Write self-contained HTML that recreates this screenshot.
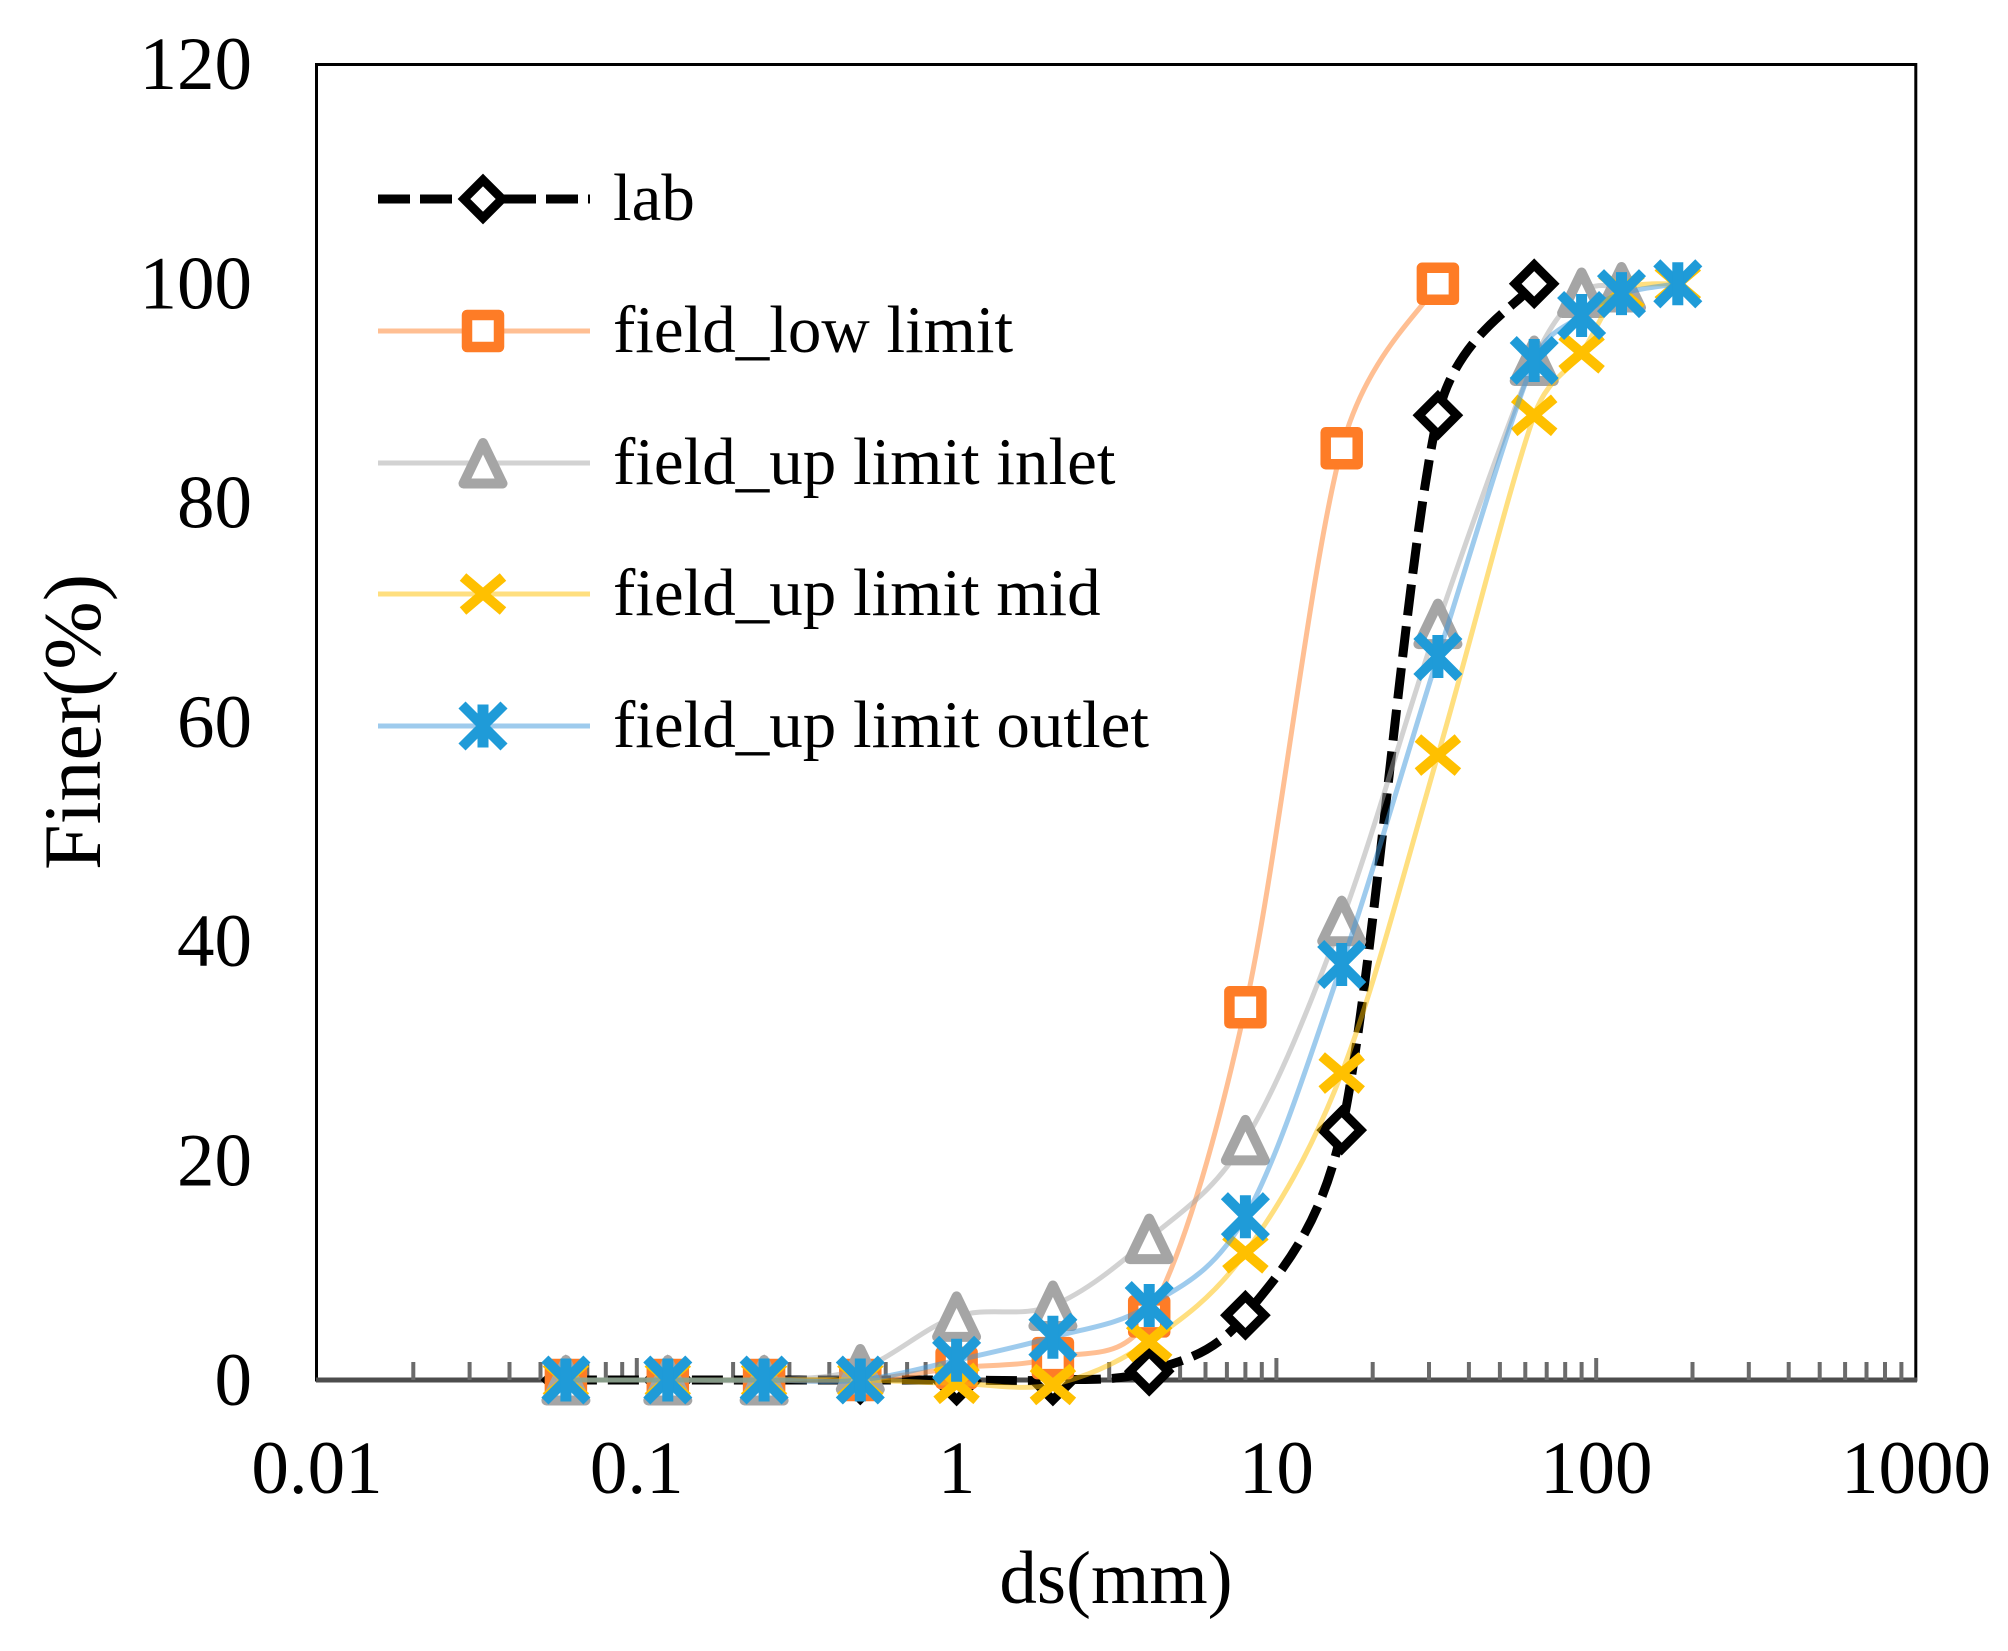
<!DOCTYPE html>
<html>
<head>
<meta charset="utf-8">
<style>
html,body{margin:0;padding:0;background:#fff;}
svg{display:block;}
text{font-family:"Liberation Serif","Times New Roman",serif;fill:#000;}
</style>
</head>
<body>
<svg id="chart" width="2008" height="1651" viewBox="0 0 2008 1651" xmlns="http://www.w3.org/2000/svg">
<defs>
  <g id="mDia"><path d="M0,-19 L19,0 L0,19 L-19,0 Z" fill="#fff" stroke="#000" stroke-width="9" stroke-linejoin="miter"/></g>
  <g id="mSq"><rect x="-16" y="-16" width="32" height="32" fill="#fff" stroke="#FE7C26" stroke-width="10.5" stroke-linejoin="round"/></g>
  <g id="mTri"><path d="M0,-20 L19.5,20.5 L-19.5,20.5 Z" fill="#fff" stroke="#A5A5A5" stroke-width="10" stroke-linejoin="round"/></g>
  <g id="mX"><path d="M-20,-17 L20,17 M-20,17 L20,-17" fill="none" stroke="#FFC000" stroke-width="10"/></g>
  <g id="mAst"><path d="M-21,-21 L21,21 M-21,21 L21,-21" fill="none" stroke="#1F9BD8" stroke-width="10"/><path d="M0,-21.5 L0,21.5" stroke="#1F9BD8" stroke-width="11"/></g>
</defs>

<rect x="0" y="0" width="2008" height="1651" fill="#fff"/>

<!-- plot frame -->
<rect x="316.5" y="64.5" width="1599.3" height="1315.5" fill="none" stroke="#000" stroke-width="3"/>

<!-- x axis + ticks -->
<line x1="316" y1="1380" x2="1917" y2="1380" stroke="#4d4d4d" stroke-width="5"/>
<path stroke="#6b6b6b" stroke-width="4" fill="none" d="
M413.3,1380v-18 M469.6,1380v-18 M509.5,1380v-18 M540.5,1380v-18 M565.9,1380v-18 M587.3,1380v-18 M605.8,1380v-18 M622.2,1380v-18 M636.8,1380v-22
M733.1,1380v-18 M789.4,1380v-18 M829.3,1380v-18 M860.3,1380v-18 M885.7,1380v-18 M907.1,1380v-18 M925.6,1380v-18 M942.0,1380v-18 M956.6,1380v-22
M1052.9,1380v-18 M1109.2,1380v-18 M1149.1,1380v-18 M1180.1,1380v-18 M1205.5,1380v-18 M1226.9,1380v-18 M1245.4,1380v-18 M1261.8,1380v-18 M1276.4,1380v-22
M1372.7,1380v-18 M1429.0,1380v-18 M1468.9,1380v-18 M1499.9,1380v-18 M1525.3,1380v-18 M1546.7,1380v-18 M1565.2,1380v-18 M1581.6,1380v-18 M1596.2,1380v-22
M1692.5,1380v-18 M1748.8,1380v-18 M1788.7,1380v-18 M1819.7,1380v-18 M1845.1,1380v-18 M1866.5,1380v-18 M1885.0,1380v-18 M1901.4,1380v-18"/>

<!-- y tick labels -->
<g font-size="75" text-anchor="end">
  <text x="252" y="89">120</text>
  <text x="252" y="308.5">100</text>
  <text x="252" y="527.5">80</text>
  <text x="252" y="747">60</text>
  <text x="252" y="966">40</text>
  <text x="252" y="1185.5">20</text>
  <text x="252" y="1405">0</text>
</g>

<!-- x tick labels -->
<g font-size="75" text-anchor="middle">
  <text x="317" y="1493">0.01</text>
  <text x="636.8" y="1493">0.1</text>
  <text x="956.6" y="1493">1</text>
  <text x="1276.4" y="1493">10</text>
  <text x="1596.2" y="1493">100</text>
  <text x="1916" y="1493">1000</text>
</g>

<!-- axis titles -->
<text x="1116" y="1603" font-size="75" text-anchor="middle">ds(mm)</text>
<text transform="translate(100,722) rotate(-90)" font-size="82" text-anchor="middle">Finer(%)</text>

<!-- series: lab -->
<path id="p_lab" fill="none" stroke="#000" stroke-width="9" stroke-dasharray="31 11"
 d="M565.9,1380 L667.8,1380 L764.1,1380 L860.3,1380 L956.6,1380 L1052.9,1380 L1149.2,1371.2 L1245.4,1315.3 L1341.7,1130.1 L1437.9,415.3 L1534.2,283.8"/>
<g>
<use href="#mDia" x="565.9" y="1380"/><use href="#mDia" x="667.8" y="1380"/><use href="#mDia" x="764.1" y="1380"/><use href="#mDia" x="860.3" y="1380"/><use href="#mDia" x="956.6" y="1381"/><use href="#mDia" x="1052.9" y="1381"/><use href="#mDia" x="1149.2" y="1371.2"/><use href="#mDia" x="1245.4" y="1315.3"/><use href="#mDia" x="1341.7" y="1130.1"/><use href="#mDia" x="1437.9" y="415.3"/><use href="#mDia" x="1534.2" y="283.8"/>
</g>

<!-- series: field_low limit -->
<path id="p_low" fill="none" stroke="#FF7F27" stroke-opacity="0.5" stroke-width="5"
 d="M565.9,1380 L667.8,1380 L764.1,1380 L860.3,1380 L956.6,1367.9 L1052.9,1358.1 L1149.2,1316.4 L1245.4,1007.3 L1341.7,448.2 L1437.9,283.8"/>
<g>
<use href="#mSq" x="565.9" y="1380"/><use href="#mSq" x="667.8" y="1380"/><use href="#mSq" x="764.1" y="1380"/><use href="#mSq" x="860.3" y="1380"/><use href="#mSq" x="956.6" y="1367.9"/><use href="#mSq" x="1052.9" y="1358.1"/><use href="#mSq" x="1149.2" y="1316.4"/><use href="#mSq" x="1245.4" y="1007.3"/><use href="#mSq" x="1341.7" y="448.2"/><use href="#mSq" x="1437.9" y="283.8"/>
</g>

<!-- series: field_up limit inlet -->
<path id="p_inlet" fill="none" stroke="#A5A5A5" stroke-opacity="0.5" stroke-width="5"
 d="M565.9,1380 L667.8,1380 L764.1,1380 L860.3,1369 L956.6,1316.4 L1052.9,1305.5 L1149.2,1238.6 L1245.4,1139.9 L1341.7,920.7 L1437.9,623.6 L1534.2,360.5 L1581.6,292.5 L1621.5,287"/>
<g>
<use href="#mTri" x="565.9" y="1380"/><use href="#mTri" x="667.8" y="1380"/><use href="#mTri" x="764.1" y="1380"/><use href="#mTri" x="860.3" y="1369"/><use href="#mTri" x="956.6" y="1316.4"/><use href="#mTri" x="1052.9" y="1305.5"/><use href="#mTri" x="1149.2" y="1238.6"/><use href="#mTri" x="1245.4" y="1139.9"/><use href="#mTri" x="1341.7" y="920.7"/><use href="#mTri" x="1437.9" y="623.6"/><use href="#mTri" x="1534.2" y="360.5"/><use href="#mTri" x="1581.6" y="292.5"/><use href="#mTri" x="1621.5" y="287"/>
</g>

<!-- series: field_up limit mid -->
<path id="p_mid" fill="none" stroke="#FFC000" stroke-opacity="0.5" stroke-width="5"
 d="M565.9,1380 L667.8,1380 L764.1,1380 L860.3,1380 L956.6,1383.3 L1052.9,1384.4 L1149.2,1341.6 L1245.4,1252.8 L1341.7,1073.1 L1437.9,755.1 L1534.2,415.3 L1581.6,352.8 L1621.5,291.4 L1677.8,283.8"/>
<g>
<use href="#mX" x="565.9" y="1380"/><use href="#mX" x="667.8" y="1380"/><use href="#mX" x="764.1" y="1380"/><use href="#mX" x="860.3" y="1380"/><use href="#mX" x="956.6" y="1383.3"/><use href="#mX" x="1052.9" y="1384.4"/><use href="#mX" x="1149.2" y="1341.6"/><use href="#mX" x="1245.4" y="1252.8"/><use href="#mX" x="1341.7" y="1073.1"/><use href="#mX" x="1437.9" y="755.1"/><use href="#mX" x="1534.2" y="415.3"/><use href="#mX" x="1581.6" y="352.8"/><use href="#mX" x="1621.5" y="291.4"/><use href="#mX" x="1677.8" y="283.8"/>
</g>

<!-- series: field_up limit outlet -->
<path id="p_outlet" fill="none" stroke="#3D98DC" stroke-opacity="0.5" stroke-width="5"
 d="M565.9,1380 L667.8,1380 L764.1,1380 L860.3,1380 L956.6,1360.3 L1052.9,1337.2 L1149.2,1305.5 L1245.4,1216.7 L1341.7,964.5 L1437.9,656.5 L1534.2,360.5 L1581.6,315.5 L1621.5,293.6 L1677.8,283.8"/>
<g>
<use href="#mAst" x="565.9" y="1380"/><use href="#mAst" x="667.8" y="1380"/><use href="#mAst" x="764.1" y="1380"/><use href="#mAst" x="860.3" y="1380"/><use href="#mAst" x="956.6" y="1360.3"/><use href="#mAst" x="1052.9" y="1337.2"/><use href="#mAst" x="1149.2" y="1305.5"/><use href="#mAst" x="1245.4" y="1216.7"/><use href="#mAst" x="1341.7" y="964.5"/><use href="#mAst" x="1437.9" y="656.5"/><use href="#mAst" x="1534.2" y="360.5"/><use href="#mAst" x="1581.6" y="315.5"/><use href="#mAst" x="1621.5" y="293.6"/><use href="#mAst" x="1677.8" y="283.8"/>
</g>

<!-- legend -->
<g>
  <line x1="378" y1="199" x2="590" y2="199" stroke="#000" stroke-width="9" stroke-dasharray="32 10"/>
  <use href="#mDia" x="483" y="199"/>
  <text x="613" y="220" font-size="67">lab</text>

  <line x1="378" y1="331" x2="590" y2="331" stroke="#FF7F27" stroke-opacity="0.5" stroke-width="5"/>
  <use href="#mSq" x="483" y="331"/>
  <text x="613" y="352" font-size="67">field_low limit</text>

  <line x1="378" y1="463" x2="590" y2="463" stroke="#A5A5A5" stroke-opacity="0.5" stroke-width="5"/>
  <use href="#mTri" x="483" y="463"/>
  <text x="613" y="484" font-size="67">field_up limit inlet</text>

  <line x1="378" y1="594" x2="590" y2="594" stroke="#FFC000" stroke-opacity="0.5" stroke-width="5"/>
  <use href="#mX" x="483" y="594"/>
  <text x="613" y="615" font-size="67">field_up limit mid</text>

  <line x1="378" y1="726" x2="590" y2="726" stroke="#3D98DC" stroke-opacity="0.5" stroke-width="5"/>
  <use href="#mAst" x="483" y="726"/>
  <text x="613" y="747" font-size="67">field_up limit outlet</text>
</g>
</svg>
<script>
(function(){
  function dist(a,b){var dx=a[0]-b[0],dy=a[1]-b[1];return Math.sqrt(dx*dx+dy*dy);}
  function smooth(id){
    var el=document.getElementById(id); if(!el) return;
    var d=el.getAttribute('d');
    var nums=d.match(/-?\d+(\.\d+)?/g).map(Number);
    var P=[]; for(var i=0;i<nums.length;i+=2){P.push([nums[i],nums[i+1]]);}
    var n=P.length; if(n<3) return;
    var s='M'+P[0][0]+','+P[0][1];
    for(var i=0;i<n-1;i++){
      var p0=P[Math.max(i-1,0)],p1=P[i],p2=P[i+1],p3=P[Math.min(i+2,n-1)];
      var d12=dist(p1,p2);
      var t1x=(p2[0]-p0[0])/6,t1y=(p2[1]-p0[1])/6;
      var t2x=(p3[0]-p1[0])/6,t2y=(p3[1]-p1[1])/6;
      var l1=Math.sqrt(t1x*t1x+t1y*t1y), l2=Math.sqrt(t2x*t2x+t2y*t2y);
      var lim=d12/2;
      if(l1>lim&&l1>0){t1x*=lim/l1;t1y*=lim/l1;}
      if(l2>lim&&l2>0){t2x*=lim/l2;t2y*=lim/l2;}
      var c1x=p1[0]+t1x,c1y=p1[1]+t1y;
      var c2x=p2[0]-t2x,c2y=p2[1]-t2y;
      s+=' C'+c1x.toFixed(1)+','+c1y.toFixed(1)+' '+c2x.toFixed(1)+','+c2y.toFixed(1)+' '+p2[0]+','+p2[1];
    }
    el.setAttribute('d',s);
  }
  ['p_lab','p_low','p_inlet','p_mid','p_outlet'].forEach(smooth);
})();
</script>
</body>
</html>
